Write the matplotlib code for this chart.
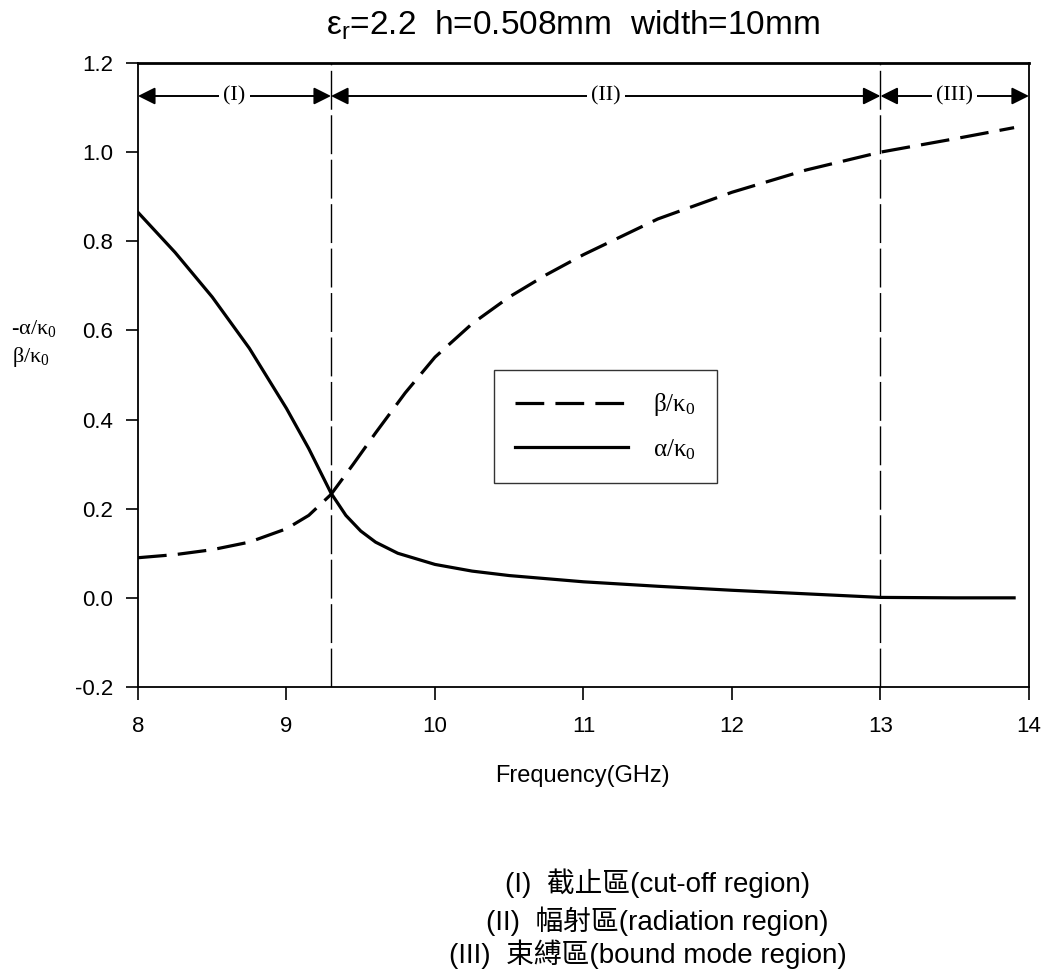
import numpy as np
import matplotlib.pyplot as plt

# ===== data =====
freq_beta = [8.0, 8.25, 8.5, 8.75, 9.0, 9.15, 9.3, 9.45, 9.6, 9.8, 10.0, 10.25, 10.5, 10.75, 11.0, 11.5, 12.0, 12.5, 13.0, 13.5, 13.9]
beta = [0.09, 0.097, 0.108, 0.125, 0.155, 0.185, 0.232, 0.30, 0.37, 0.46, 0.54, 0.615, 0.675, 0.725, 0.77, 0.85, 0.91, 0.96, 1.0, 1.03, 1.055]

freq_alpha = [8.0, 8.25, 8.5, 8.75, 9.0, 9.15, 9.3, 9.4, 9.5, 9.6, 9.75, 10.0, 10.25, 10.5, 11.0, 11.5, 12.0, 12.5, 13.0, 13.5, 13.9]
alpha = [0.865, 0.775, 0.675, 0.56, 0.425, 0.335, 0.235, 0.185, 0.15, 0.125, 0.10, 0.075, 0.06, 0.05, 0.036, 0.026, 0.017, 0.009, 0.001, 0.0, 0.0]

bounds = [8.0, 9.3, 13.0, 14.0]
region_names = ["(I)", "(II)", "(III)"]
region_notes = ["(I)  截止區(cut-off region)",
                "(II)  幅射區(radiation region)",
                "(III)  束縛區(bound mode region)"]

plt.rcParams['font.family'] = ['Liberation Sans', 'Noto Sans CJK TC', 'DejaVu Sans']

fig = plt.figure(figsize=(10.46, 9.71), dpi=100)
ax = fig.add_axes([0.1319, 0.2925, 0.8518, 0.6426])

ax.plot(freq_beta, beta, color='k', lw=2.3, dashes=(9, 3.5), label=r'$\mathregular{β/κ_0}$')
ax.plot(freq_alpha, alpha, color='k', lw=2.3, label=r'$\mathregular{α/κ_0}$')

# region borders
for b in bounds[1:3]:
    ax.axvline(b, color='k', lw=1, dashes=(28, 4))

# region arrows
ya = 1.126
for i in range(3):
    ax.annotate('', xy=(bounds[i], ya), xytext=(bounds[i+1], ya),
                arrowprops=dict(arrowstyle='<|-|>', color='k', lw=1.4,
                                shrinkA=0, shrinkB=0, mutation_scale=26))
    ax.text((bounds[i] + bounds[i+1]) / 2, ya, region_names[i], ha='center', va='center',
            fontsize=16, family='Liberation Serif',
            bbox=dict(facecolor='white', edgecolor='none', pad=3))

ax.set_xlim(8, 14)
ax.set_ylim(-0.2, 1.2)
ax.set_xticks(np.arange(8, 15, 1))
ax.set_yticks(np.arange(-0.2, 1.21, 0.2))
ax.set_yticklabels(['-0.2', '0.0', '0.2', '0.4', '0.6', '0.8', '1.0', '1.2'])
ax.tick_params(direction='out', length=9, width=1.2, labelsize=16)
ax.tick_params(axis='x', pad=12)
ax.tick_params(axis='y', pad=9)
for s in ax.spines.values():
    s.set_linewidth(1.3)
ax.spines['top'].set_linewidth(2)

leg = ax.legend(loc='upper left', bbox_to_anchor=(0.3996, 0.508), borderaxespad=0,
                handlelength=4.5, frameon=True, fancybox=False, edgecolor='k',
                borderpad=0.85, labelspacing=0.75, handletextpad=1.0,
                prop={'family': 'Liberation Serif', 'size': 18})
leg.get_frame().set_linewidth(1.0)

fig.text(0.548, 0.974, r'$\mathregular{ε_r}$=2.2  h=0.508mm  width=10mm', ha='center', va='center', fontsize=24)
fig.text(0.557, 0.2008, 'Frequency(GHz)', ha='center', va='center', fontsize=17)
fig.text(0.032, 0.662, '-' + r'$\mathregular{α/κ_0}$', ha='center', va='center', fontsize=16, family='Liberation Serif')
fig.text(0.030, 0.632, r'$\mathregular{β/κ_0}$', ha='center', va='center', fontsize=16, family='Liberation Serif')

ys = [0.0906, 0.0515, 0.0175]
xs = [0.629, 0.628, 0.619]
for t, x, y in zip(region_notes, xs, ys):
    fig.text(x, y, t, ha='center', va='center', fontsize=20)

fig.savefig('out.png', dpi=100)
